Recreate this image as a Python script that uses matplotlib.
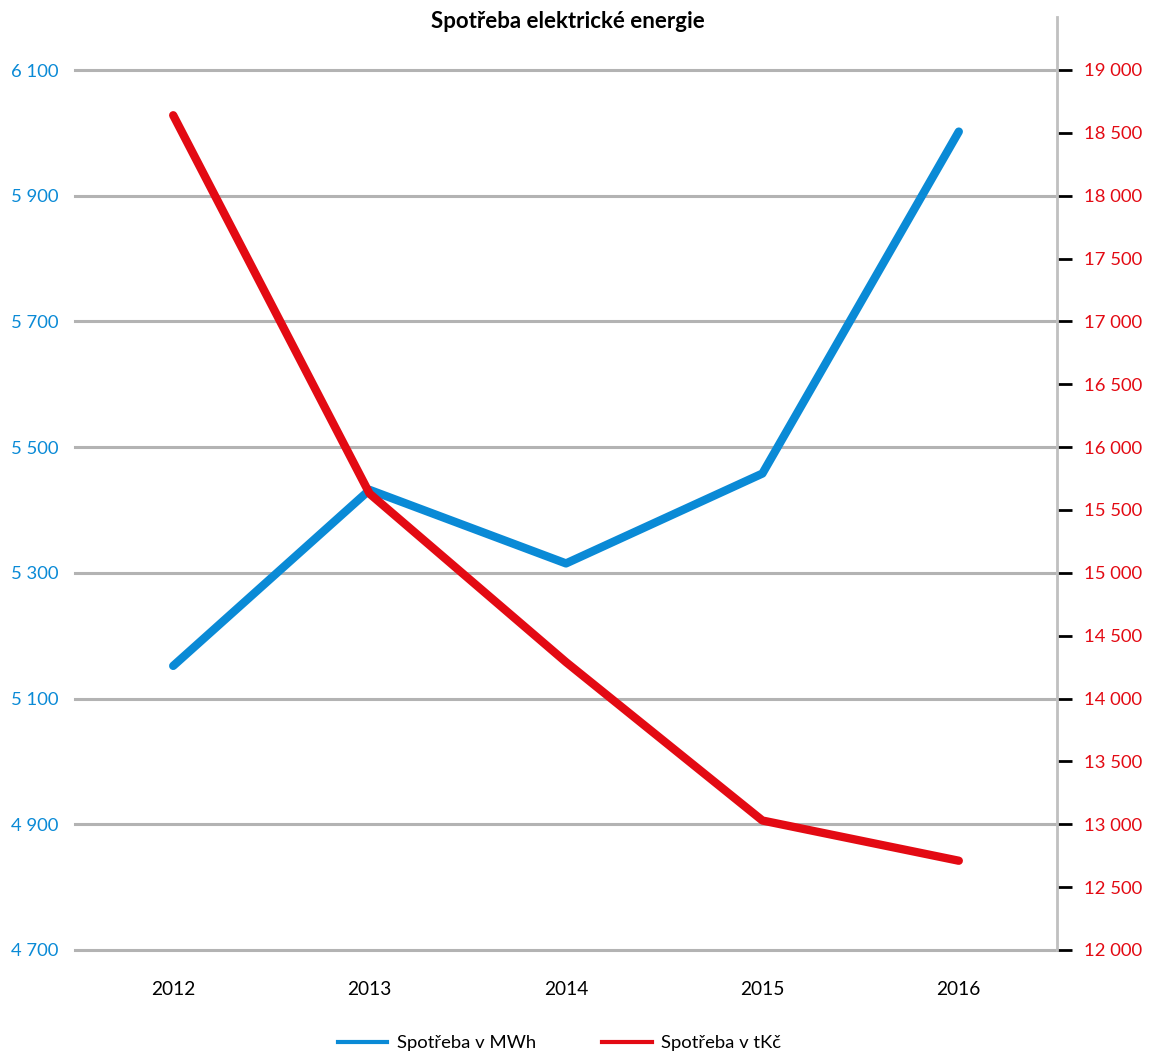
import matplotlib.pyplot as plt
from matplotlib.ticker import FuncFormatter

plt.rcParams['font.family'] = ['Lato', 'DejaVu Sans']

roky = ['2012', '2013', '2014', '2015', '2016']
spotreba_mwh = [5152, 5432, 5315, 5458, 6002]
spotreba_tkc = [18640, 15630, 14290, 13030, 12710]

mwh_ticks = [4700, 4900, 5100, 5300, 5500, 5700, 5900, 6100]
tkc_ticks = list(range(12000, 19001, 500))

modra = '#0A8AD6'
cervena = '#E30A13'


def mezera(v, pos):
    return '{:,}'.format(int(v)).replace(',', ' ')


fig = plt.figure(figsize=(11.49, 10.54), dpi=100)
ax = fig.add_axes([75 / 1149, 1 - 950 / 1054, (1057 - 75) / 1149, (950 - 17) / 1054])
ax2 = ax.twinx()

x = list(range(len(roky)))
ax.plot(x, spotreba_mwh, color=modra, lw=6, solid_capstyle='round', zorder=3)
ax2.plot(x, spotreba_tkc, color=cervena, lw=6, solid_capstyle='round', zorder=3)

# levá osa - MWh, mřížka jen podle ní
ax.set_xlim(-0.5, 4.5)
ax.set_ylim(4700, 4700 + (950 - 17) / (880 / 1400))
ax.set_yticks(mwh_ticks)
ax.yaxis.set_major_formatter(FuncFormatter(mezera))
ax.grid(axis='y', color='#b3b3b3', lw=2.2)
for gl in ax.get_ygridlines():
    gl.set_clip_on(False)
ax.set_axisbelow(True)
ax.tick_params(axis='y', length=0, pad=12, labelcolor=modra, labelsize=13.3)
ax.tick_params(axis='x', length=0, pad=22, labelsize=13.8)
ax.set_xticks(x)
ax.set_xticklabels(roky)

# pravá osa - tKč
ax2.set_ylim(12000, 12000 + (950 - 17) / (880 / 7000))
ax2.set_yticks(tkc_ticks)
ax2.yaxis.set_major_formatter(FuncFormatter(mezera))
ax2.tick_params(axis='y', length=11, width=2, color='black', pad=8.5,
                labelcolor=cervena, labelsize=13.3)

for a in (ax, ax2):
    for s in ('top', 'left', 'bottom'):
        a.spines[s].set_visible(False)
ax.spines['right'].set_visible(False)
ax2.spines['right'].set_color('#c0c0c0')
ax2.spines['right'].set_linewidth(2)

fig.text(0.494, 1 - 22 / 1054, 'Spotřeba elektrické energie', ha='center', va='center',
         fontsize=16, fontweight='bold')

h1, = ax.plot([], [], color=modra, lw=3)
h2, = ax.plot([], [], color=cervena, lw=3)
fig.legend([h1, h2], ['Spotřeba v MWh', 'Spotřeba v tKč'], loc='center',
           bbox_to_anchor=(0.487, 1 - 1043 / 1054), ncol=2, frameon=False,
           fontsize=13.3, handlelength=2.7, columnspacing=3.6, handletextpad=0.5)

fig.savefig('out.png', dpi=100)
